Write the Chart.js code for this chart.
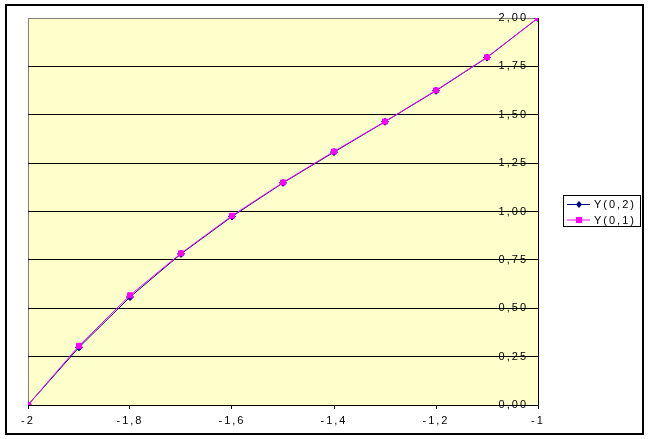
<html lang="en"><head>
<meta charset="utf-8">
<title>Y(0,2) / Y(0,1)</title>
<style>
  * { margin: 0; padding: 0; box-sizing: border-box; }
  body { background: #ffffff; width: 649px; height: 439px; overflow: hidden; }
  #chart { display: block; }
</style>
</head>
<body>
<canvas id="chart" width="649" height="439"></canvas>
<script src="https://cdn.jsdelivr.net/npm/chart.js@4/dist/chart.umd.min.js"></script>
<script>
// x values of the computed points
const xValues = [-2, -1.9, -1.8, -1.7, -1.6, -1.5, -1.4, -1.3, -1.2, -1.1, -1];
// the two series
const y02 = [0, 0.298, 0.558, 0.781, 0.974, 1.148, 1.307, 1.464, 1.624, 1.796, 2.0];
const y01 = [0, 0.306, 0.567, 0.784, 0.978, 1.150, 1.310, 1.465, 1.626, 1.797, 2.0];
const seriesNames = ["Y(0,2)", "Y(0,1)"];

const toPoints = (ys) => ys.map((y, i) => ({ x: xValues[i], y: y }));
const comma = (s) => s.replace(".", ",");

const FONT = "'Liberation Sans', Arial, sans-serif";

//plot background, frame and the outer border
const framePlugin = {
  id: "frame",
  beforeDraw(chart) {
    const ctx = chart.ctx;
    const a = chart.chartArea;
    ctx.letterSpacing = "2px";
    ctx.save();
    ctx.fillStyle = "#ffffcc";
    ctx.fillRect(a.left, a.top, a.right - a.left, a.bottom - a.top);
    ctx.strokeStyle = "#808080";
    ctx.lineWidth = 1;
    ctx.beginPath();
    ctx.moveTo(a.left + 0.5, a.top);
    ctx.lineTo(a.left + 0.5, a.bottom);
    ctx.stroke();
    ctx.restore();
  },
  afterDraw(chart) {
    const ctx = chart.ctx;
    ctx.save();
    ctx.strokeStyle = "#000000";
    ctx.lineWidth = 2;
    ctx.strokeRect(6, 5, 637, 429);
    ctx.restore();
  }
};

//legend box with line + marker samples
const legendPlugin = {
  id: "boxLegend",
  afterDraw(chart) {
    const ctx = chart.ctx;
    ctx.save();
    ctx.strokeStyle = "#000000";
    ctx.lineWidth = 1;
    ctx.strokeRect(563.5, 195.5, 77, 31);
    ctx.font = "11px " + FONT;
    ctx.textBaseline = "middle";
    ctx.textAlign = "left";
    chart.data.datasets.forEach((ds, i) => {
      const y = 204 + i * 15.5;
      ctx.strokeStyle = ds.borderColor;
      ctx.beginPath();
      ctx.moveTo(567, y + 0.5);
      ctx.lineTo(590, y + 0.5);
      ctx.stroke();
      ctx.fillStyle = ds.pointBackgroundColor;
      ctx.beginPath();
      if (ds.pointStyle === "rectRot") {
        ctx.moveTo(579, y - 3);
        ctx.lineTo(582, y + 0.5);
        ctx.lineTo(579, y + 4);
        ctx.lineTo(576, y + 0.5);
        ctx.closePath();
      } else {
        ctx.rect(576, y - 2.5, 6, 6);
      }
      ctx.fill();
      ctx.fillStyle = "#000000";
      ctx.fillText(ds.label, 594, y + 1);
    });
    ctx.restore();
  }
};

new Chart(document.getElementById("chart"), {
  type: "line",
  plugins: [framePlugin, legendPlugin],
  data: {
    datasets: [
      {
        label: seriesNames[0],
        data: toPoints(y02),
        borderColor: "#000080",
        backgroundColor: "#000080",
        pointBackgroundColor: "#000080",
        pointBorderColor: "#000080",
        pointStyle: "rectRot",
        pointRadius: 3.5,
        borderWidth: 1,
        tension: 0,
        order: 2
      },
      {
        label: seriesNames[1],
        data: toPoints(y01),
        borderColor: "#ff00ff",
        backgroundColor: "#ff00ff",
        pointBackgroundColor: "#ff00ff",
        pointBorderColor: "#ff00ff",
        pointStyle: "rect",
        pointRadius: 3.5,
        borderWidth: 1,
        tension: 0,
        order: 1
      }
    ]
  },
  options: {
    responsive: false,
    devicePixelRatio: 1,
    animation: false,
    layout: { padding: { left: 28, top: 18, right: 111, bottom: 0 } },
    plugins: {
      legend: { display: false },
      tooltip: { enabled: false }
    },
    scales: {
      x: {
        type: "linear",
        position: "bottom",
        min: -2,
        max: -1,
        afterFit: (s) => { s.height = 34; },
        grid: {
          drawOnChartArea: false,
          drawTicks: true,
          tickLength: 4,
          color: "#000000"
        },
        border: { color: "#000000", width: 1 },
        ticks: {
          stepSize: 0.2,
          autoSkip: false,
          maxRotation: 0,
          padding: 5,
          color: "#000000",
          font: { family: FONT, size: 11 },
          callback: (v) => comma(String(Math.round(v * 10) / 10))
        }
      },
      y: {
        type: "linear",
        position: "right",
        min: 0,
        max: 2,
        afterFit: (s) => { s.width = 0; },
        grid: {
          drawTicks: false,
          color: (c) => (c.tick && c.tick.value === 2 ? "#808080" : "#000000")
        },
        border: { color: "#000000", width: 1 },
        ticks: {
          stepSize: 0.25,
          mirror: true,
          padding: -10,
          color: "#000000",
          font: { family: FONT, size: 11 },
          callback: (v) => comma(v.toFixed(2))
        }
      }
    }
  }
});
</script>
</body></html>
